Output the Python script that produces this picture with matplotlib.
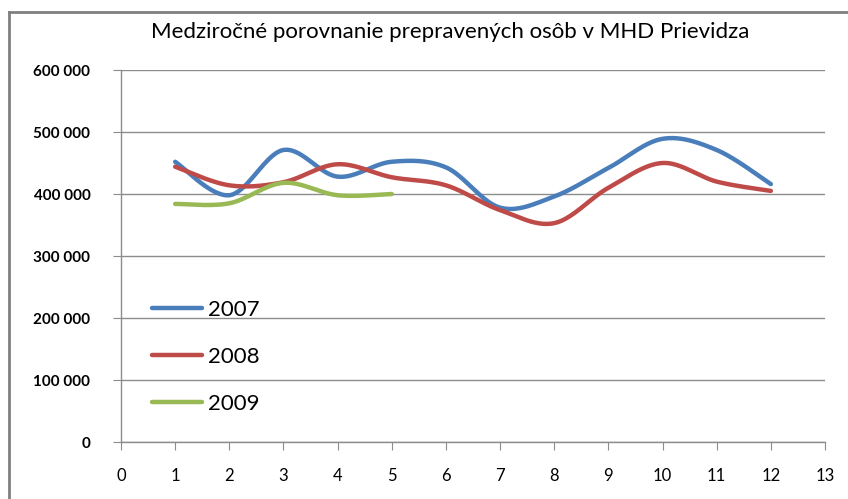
import numpy as np
import matplotlib
matplotlib.use("Agg")
import matplotlib.pyplot as plt
from matplotlib.lines import Line2D

# ── data ────────────────────────────────────────────────────────────────────
months = [1, 2, 3, 4, 5, 6, 7, 8, 9, 10, 11, 12]
y2007 = [452000, 398000, 471000, 428000, 452000, 443000, 378000, 396000, 442000, 489000, 471000, 416000]
y2008 = [444000, 414000, 419000, 448000, 427000, 414000, 374000, 353000, 410000, 450000, 420000, 405000]
months_2009 = [1, 2, 3, 4, 5]
y2009 = [384000, 385000, 418000, 398000, 400000]

TITLE = "Medziročné porovnanie prepravených osôb v MHD Prievidza"
COLORS = {"2007": "#4A7EBB", "2008": "#BE4B48", "2009": "#98B954"}


def excel_smooth(x, y, n=40):
    # Bezier smoothing similar to Excel's "smoothed line"
    x = np.asarray(x, float); y = np.asarray(y, float)
    px = np.concatenate([[x[0]], x, [x[-1]]])
    py = np.concatenate([[y[0]], y, [y[-1]]])
    xs, ys = [], []
    t = np.linspace(0, 1, n)
    for i in range(1, len(px) - 2):
        p0 = np.array([px[i], py[i]]); p3 = np.array([px[i + 1], py[i + 1]])
        c1 = p0 + (np.array([px[i + 1], py[i + 1]]) - np.array([px[i - 1], py[i - 1]])) / 6
        c2 = p3 - (np.array([px[i + 2], py[i + 2]]) - np.array([px[i], py[i]])) / 6
        b = (np.outer((1 - t) ** 3, p0) + np.outer(3 * (1 - t) ** 2 * t, c1)
             + np.outer(3 * (1 - t) * t ** 2, c2) + np.outer(t ** 3, p3))
        xs.extend(b[:, 0]); ys.extend(b[:, 1])
    return xs, ys


plt.rcParams["font.family"] = ["Lato", "DejaVu Sans"]

fig = plt.figure(figsize=(8.48, 4.99), dpi=100)
ax = fig.add_axes([121 / 848, 57 / 499, 704 / 848, 372 / 499])

for label, xv, yv in [("2007", months, y2007), ("2008", months, y2008),
                      ("2009", months_2009, y2009)]:
    sx, sy = excel_smooth(xv, yv)
    ax.plot(sx, sy, color=COLORS[label], lw=3.2, solid_capstyle="round", label=label, zorder=3)

ax.set_xlim(0, 13)
ax.set_ylim(0, 600000)
ax.set_xticks(range(0, 14))
ax.set_yticks(range(0, 600001, 100000))
ax.set_yticklabels([f"{v:,}".replace(",", " ") for v in range(0, 600001, 100000)],
                   fontweight="bold", fontsize=11)
ax.set_xticklabels([str(i) for i in range(0, 14)], fontsize=12)
ax.grid(axis="y", color="#8c8c8c", lw=1)
ax.set_axisbelow(True)
for s in ["top", "right"]:
    ax.spines[s].set_visible(False)
for s in ["left", "bottom"]:
    ax.spines[s].set_color("#8c8c8c")
    ax.spines[s].set_linewidth(1)
ax.tick_params(axis="both", color="#8c8c8c", length=6, direction="out")
ax.tick_params(axis="x", pad=13)
ax.tick_params(axis="y", pad=16)

leg = ax.legend(loc="upper left", bbox_to_anchor=(0.015, 0.435), frameon=False,
                fontsize=16, handlelength=2.25, handletextpad=0.3, labelspacing=1.2)

fig.text(0.531, 0.935, TITLE, ha="center", va="center", fontsize=16)

# chart-area border (left and top edges visible)
fig.add_artist(Line2D([9 / 848, 9 / 848], [0, 1 - 12 / 499], color="#808080", lw=2,
                      transform=fig.transFigure))
fig.add_artist(Line2D([9 / 848, 1], [1 - 12 / 499, 1 - 12 / 499], color="#808080", lw=2,
                      transform=fig.transFigure))

fig.savefig("out.png", dpi=100)
